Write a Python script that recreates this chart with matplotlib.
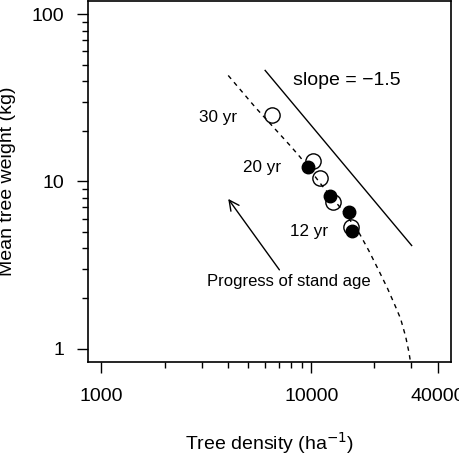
#!/usr/bin/env python3

# Self-thinning plot: mean tree weight vs tree density (log-log)

import numpy as np
import matplotlib
matplotlib.use("Agg")
import matplotlib.pyplot as plt
from matplotlib.ticker import FixedLocator, NullFormatter

open_density = [6490, 10140, 10960, 12650, 15490]
open_weight = [25.1, 13.2, 10.5, 7.52, 5.37]
filled_density = [9600, 12330, 15140, 15590]
filled_weight = [12.2, 8.16, 6.61, 5.03]

# reference line with slope -1.5
slope_density = [6030, 30100]
slope_weight = [46.2, 4.14]

# dashed trajectory
curve_density = [4021, 5397, 7933, 8858, 11250, 14548, 16840, 18800, 20990,
                 23100, 25230, 26660, 28180, 29220, 29770]
curve_weight = [43.1, 27.9, 16.4, 13.98, 9.46, 6.41, 4.97, 3.86, 2.93,
                 2.29, 1.78, 1.51, 1.18, 0.95, 0.82]

# arrow (tail -> head)
arrow_tail = (7050, 2.96)
arrow_head = (4020, 7.87)

age_labels = ["30 yr", "20 yr", "12 yr"]
age_pos = [(4430, 24.2), (7180, 12.1), (12050, 5.02)]

x_major = [1000, 10000, 40000]
x_minor = [2000, 3000, 4000, 5000, 6000, 7000, 8000, 9000, 20000, 30000]
y_major = [1, 10, 100]
y_minor = [2, 3, 4, 5, 6, 7, 8, 9, 20, 30, 40, 50, 60, 70, 80, 90]

plt.rcParams['font.family'] = ['Liberation Sans', 'DejaVu Sans']

fig = plt.figure(figsize=(4.59, 4.61), dpi=100)
ax = fig.add_axes([0.1917, 0.2148, 0.7909, 0.7830])

ax.plot(curve_density, curve_weight, color="black", lw=1.0, ls=(0, (3.2, 3.2)))
ax.plot(slope_density, slope_weight, color="black", lw=1.0)

ax.plot(open_density, open_weight, ls="none", marker="o", ms=11, mfc="none",
        mec="black", mew=1.0)
ax.plot(filled_density, filled_weight, ls="none", marker="o", ms=9, mfc="black",
        mec="black", mew=1.0)

ax.annotate("", xy=arrow_head, xytext=arrow_tail,
            arrowprops=dict(arrowstyle="->", color="black", lw=1.0,
                            mutation_scale=18, shrinkA=0, shrinkB=0))

for lab, (px, py) in zip(age_labels, age_pos):
    ax.text(px, py, lab, ha="right", va="center", fontsize=12.3)

ax.text(8200, 40.3, "slope = \u22121.5", ha="left", va="center", fontsize=14)
ax.text(7850, 2.52, "Progress of stand age", ha="center", va="center", fontsize=12)

ax.set_xscale("log")
ax.set_yscale("log")
pad = 0.04
lx = np.log10([1000, 40000])
ly = np.log10([1, 100])
ax.set_xlim(10 ** (lx[0] - pad * (lx[1] - lx[0])), 10 ** (lx[1] + pad * (lx[1] - lx[0])))
ax.set_ylim(10 ** (ly[0] - pad * (ly[1] - ly[0])), 10 ** (ly[1] + pad * (ly[1] - ly[0])))

ax.xaxis.set_major_locator(FixedLocator(x_major))
ax.xaxis.set_minor_locator(FixedLocator(x_minor))
ax.yaxis.set_major_locator(FixedLocator(y_major))
ax.yaxis.set_minor_locator(FixedLocator(y_minor))
ax.set_xticklabels([str(v) for v in x_major])
ax.set_yticklabels([str(v) for v in y_major])
ax.xaxis.set_minor_formatter(NullFormatter())
ax.yaxis.set_minor_formatter(NullFormatter())

ax.tick_params(which="major", length=8, width=1.0, labelsize=14)
ax.tick_params(which="minor", length=4.5, width=1.0)
ax.tick_params(axis="x", which="major", pad=11)
ax.tick_params(axis="y", which="major", pad=9)
for s in ax.spines.values():
    s.set_linewidth(1.2)

ax.set_xlabel("Tree density (ha$^{-1}$)", fontsize=14)
ax.set_ylabel("Mean tree weight (kg)", fontsize=14)
ax.xaxis.set_label_coords(0.5, -0.19)
ax.yaxis.set_label_coords(-0.198, 0.5)

fig.savefig("out.png", dpi=100)
